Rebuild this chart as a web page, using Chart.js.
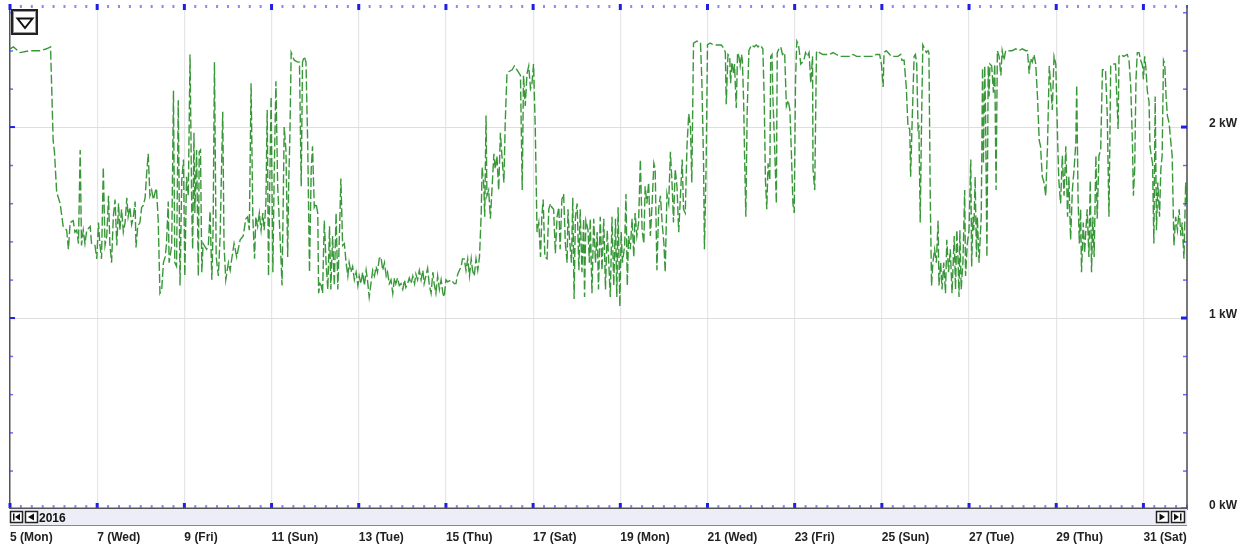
<!DOCTYPE html>
<html>
<head>
<meta charset="utf-8">
<title>Power December 2016</title>
<script src="https://cdn.jsdelivr.net/npm/chart.js@4.4.0/dist/chart.umd.min.js"></script>
<style>
  html, body { margin: 0; padding: 0; background: #fff; }
  #wrap { position: relative; width: 1245px; height: 546px; }
</style>
</head>
<body>
<div id="wrap"><canvas id="chart"></canvas></div>
<script>
// readings: x = day of month (December 2016), y = power in kW
const days1 = [
  5.00,5.08,5.23,5.46,5.69,5.84,5.93,5.99,6.02,6.07,
  6.15,6.22,6.30,6.34,6.38,6.45,6.49,6.53,6.57,6.61,
  6.64,6.68,6.72,6.76,6.84,6.87,6.95,6.99,7.03,7.06,
  7.10,7.14,7.18,7.22,7.26,7.29,7.33,7.37,7.41,7.45,
  7.49,7.52,7.56,7.60,7.64,7.68,7.71,7.75,7.79,7.83,
  7.87,7.89,7.93,7.98,8.02,8.06,8.10,8.13,8.17,8.21,
  8.25,8.29,8.33,8.36,8.40,8.44,8.48,8.52,8.56,8.59,
  8.63,8.65,8.71,8.75,8.78,8.82,8.86,8.90,8.94,8.98,
  9.01,9.05,9.09,9.13,9.17,9.19,9.22,9.24,9.28,9.32,
  9.34,9.37,9.40,9.43,9.51,9.55,9.59,9.63,9.66,9.69,
  9.73,9.78,9.82,9.88,9.91,9.95,10.01,10.05,10.08,10.14,
  10.20,10.28,10.35
];
const kw1 = [
  2.41,2.42,2.39,2.40,2.40,2.41,2.42,1.93,1.87,1.66,
  1.60,1.48,1.46,1.36,1.50,1.51,1.45,1.46,1.39,1.88,
  1.38,1.46,1.39,1.46,1.48,1.39,1.38,1.31,1.50,1.39,
  1.31,1.79,1.38,1.43,1.64,1.39,1.29,1.53,1.62,1.38,
  1.60,1.46,1.57,1.45,1.50,1.63,1.53,1.58,1.49,1.53,
  1.61,1.37,1.48,1.50,1.58,1.59,1.63,1.74,1.86,1.64,
  1.67,1.62,1.66,1.68,1.51,1.13,1.15,1.29,1.32,1.39,
  1.61,1.29,1.38,2.19,1.29,1.27,2.14,1.17,1.72,1.83,
  1.22,1.74,1.64,2.38,1.56,1.36,1.97,1.55,1.88,1.22,
  1.87,1.88,1.24,1.39,1.36,1.38,1.56,1.20,1.48,2.34,
  1.32,1.22,1.43,2.08,1.38,1.20,1.29,1.25,1.30,1.39,
  1.32,1.41,1.43
];

const days2 = [
  10.41,10.45,10.49,10.53,10.57,10.61,10.64,10.68,10.72,10.76,
  10.80,10.83,10.87,10.90,10.93,10.96,10.99,11.03,11.06,11.10,
  11.14,11.18,11.22,11.24,11.27,11.29,11.33,11.37,11.39,11.42,
  11.45,11.52,11.60,11.64,11.68,11.71,11.75,11.79,11.83,11.87,
  11.91,11.94,11.98,12.02,12.06,12.08,12.11,12.14,12.17,12.21,
  12.25,12.29,12.33,12.36,12.40,12.44,12.48,12.52,12.56,12.59,
  12.63,12.67,12.71,12.75,12.78,12.82,12.86,12.90,12.94,12.98,
  13.01,13.05,13.09,13.13,13.17,13.20,13.24,13.28,13.32,13.36,
  13.40,13.43,13.47,13.51,13.55,13.59,13.63,13.66,13.70,13.74,
  13.78,13.82,13.85,13.89,13.93,13.97,14.01,14.05,14.08,14.12,
  14.16,14.20,14.24,14.28,14.31,14.35,14.39,14.43,14.47,14.50,
  14.54,14.58,14.62,14.66,14.70,14.73,14.77,14.81,14.85,14.89,
  14.93,14.96,15.00,15.04,15.12,15.19,15.23,15.27,15.31,15.35,
  15.38,15.42,15.46,15.50,15.54,15.58,15.61,15.65,15.69,15.73,
  15.77,15.81
];
const kw2 = [
  1.52,1.53,1.46,2.23,1.53,1.31,1.53,1.48,1.55,1.46,
  1.55,1.46,1.60,2.09,1.22,1.72,2.16,1.24,1.74,2.24,
  1.69,1.50,1.29,1.17,1.64,2.00,1.88,1.32,1.67,1.95,
  2.39,2.35,2.34,2.34,1.69,2.34,2.37,2.34,1.90,1.24,
  1.78,1.90,1.58,1.60,1.55,1.13,1.18,1.17,1.13,1.51,
  1.29,1.15,1.48,1.15,1.43,1.17,1.55,1.15,1.46,1.73,
  1.38,1.39,1.29,1.22,1.29,1.24,1.27,1.20,1.24,1.17,
  1.22,1.18,1.24,1.17,1.25,1.20,1.11,1.18,1.25,1.22,
  1.27,1.24,1.31,1.32,1.25,1.29,1.22,1.24,1.18,1.20,
  1.13,1.21,1.18,1.21,1.17,1.18,1.15,1.20,1.16,1.18,
  1.21,1.18,1.22,1.18,1.23,1.20,1.25,1.20,1.25,1.18,
  1.22,1.26,1.17,1.13,1.24,1.18,1.13,1.22,1.15,1.20,
  1.13,1.11,1.20,1.19,1.20,1.18,1.18,1.23,1.25,1.27,
  1.31,1.31,1.25,1.31,1.22,1.31,1.25,1.22,1.31,1.25,
  1.32,1.55
];

const days3 = [
  15.83,15.87,15.89,15.92,15.94,15.98,16.02,16.06,16.10,16.13,
  16.17,16.21,16.25,16.29,16.33,16.36,16.40,16.44,16.52,16.57,
  16.63,16.71,16.75,16.78,16.82,16.86,16.90,16.94,16.97,17.01,
  17.05,17.09,17.13,17.17,17.20,17.23,17.27,17.32,17.36,17.40,
  17.43,17.47,17.51,17.55,17.59,17.62,17.66,17.70,17.74,17.78,
  17.80,17.83,17.88,17.91,17.94,17.97,18.01,18.05,18.08,18.12,
  18.16,18.18,18.21,18.26,18.29,18.31,18.35,18.39,18.43,18.47,
  18.50,18.54,18.58,18.62,18.66,18.70,18.73,18.77,18.81,18.85,
  18.89,18.92,18.95,18.99,19.02,19.05,19.10,19.13,19.16,19.19,
  19.23,19.27,19.31,19.34,19.38,19.42,19.46,19.50,19.54,19.57,
  19.61,19.65,19.69,19.73,19.77,19.80,19.84,19.88,19.92,19.96,
  20.00,20.03,20.07,20.11,20.15,20.19,20.22,20.26,20.30,20.34,
  20.38,20.42,20.45,20.49,20.53,20.57,20.61,20.64,20.68,20.76,
  20.84,20.87,20.91,20.93,20.97,21.00,21.06,21.14,21.18
];
const kw3 = [
  1.79,1.69,1.53,2.06,1.64,1.67,1.52,1.69,1.86,1.78,
  1.85,1.67,1.97,1.83,1.71,2.02,2.28,2.29,2.30,2.32,
  2.30,2.27,1.67,2.27,2.11,2.28,2.32,2.20,2.22,2.33,
  1.99,1.45,1.50,1.32,1.53,1.62,1.32,1.31,1.57,1.60,
  1.58,1.57,1.34,1.53,1.58,1.36,1.62,1.65,1.39,1.29,
  1.57,1.43,1.29,1.63,1.10,1.53,1.60,1.25,1.57,1.24,
  1.52,1.11,1.51,1.46,1.29,1.52,1.13,1.52,1.29,1.45,
  1.15,1.53,1.25,1.52,1.15,1.46,1.32,1.11,1.53,1.17,
  1.52,1.11,1.58,1.06,1.45,1.29,1.38,1.65,1.17,1.43,
  1.36,1.52,1.32,1.55,1.43,1.50,1.83,1.46,1.39,1.69,
  1.60,1.71,1.43,1.60,1.81,1.78,1.25,1.57,1.64,1.50,
  1.39,1.24,1.65,1.60,1.87,1.69,1.50,1.78,1.69,1.45,
  1.64,1.83,1.57,1.55,1.90,2.07,2.00,1.71,2.44,2.45,
  2.44,2.25,1.81,1.36,1.81,2.43,2.44,2.43,2.43
];

const days4 = [
  21.24,21.32,21.38,21.41,21.43,21.47,21.51,21.53,21.56,21.60,
  21.62,21.66,21.69,21.72,21.75,21.78,21.80,21.83,21.85,21.88,
  21.91,21.95,22.01,22.07,22.12,22.16,22.20,22.24,22.27,22.30,
  22.33,22.36,22.39,22.43,22.45,22.48,22.50,22.54,22.58,22.60,
  22.64,22.68,22.72,22.77,22.81,22.85,22.89,22.92,22.96,22.99,
  23.02,23.05,23.09,23.14,23.18,23.21,23.25,23.29,23.33,23.37,
  23.41,23.42,23.46,23.50,23.54,23.57,23.65,23.73,23.80,23.88,
  23.96,24.03,24.11,24.19,24.26,24.34,24.42,24.49,24.57,24.64,
  24.72,24.80,24.87,24.95,24.99,25.03,25.05,25.10,25.14,25.22,
  25.29,25.37,25.43,25.46,25.51,25.56,25.60,25.64,25.66,25.69,
  25.74,25.77,25.80,25.83,25.85,25.88,25.91,25.94,25.98,26.02,
  26.06,26.08,26.11,26.14,26.17,26.21,26.25,26.29,26.31,26.35,
  26.38,26.42,26.46,26.49,26.53,26.57,26.61
];
const kw4 = [
  2.43,2.43,2.41,2.39,2.12,2.38,2.37,2.23,2.34,2.28,
  2.33,2.10,2.39,2.37,2.32,2.38,2.35,2.13,1.86,1.53,
  2.07,2.40,2.43,2.42,2.43,2.42,2.43,2.42,2.41,2.16,
  1.72,1.57,1.81,1.72,2.37,2.38,2.16,1.90,1.60,2.39,
  2.41,2.42,2.38,2.39,2.11,2.14,2.09,1.90,1.60,1.55,
  2.25,2.45,2.43,2.33,2.34,2.35,2.39,2.37,2.39,2.23,
  2.37,1.78,1.67,2.39,2.40,2.39,2.38,2.38,2.38,2.39,
  2.38,2.37,2.37,2.37,2.37,2.38,2.37,2.37,2.37,2.37,
  2.37,2.37,2.38,2.38,2.33,2.21,2.39,2.40,2.39,2.37,
  2.37,2.37,2.38,2.35,2.35,2.21,2.00,1.99,1.74,1.99,
  2.37,2.38,2.33,1.99,2.00,1.50,2.02,2.43,2.41,2.39,
  2.40,2.39,1.64,1.17,1.29,1.36,1.29,1.51,1.17,1.29,
  1.15,1.29,1.13,1.41,1.24,1.36,1.13
];

const days5 = [
  26.66,26.69,26.72,26.75,26.77,26.79,26.82,26.86,26.90,26.92,
  26.96,27.00,27.04,27.06,27.09,27.11,27.14,27.17,27.19,27.23,
  27.25,27.28,27.31,27.33,27.36,27.38,27.41,27.44,27.46,27.48,
  27.52,27.56,27.59,27.62,27.65,27.69,27.73,27.76,27.80,27.84,
  27.92,27.99,28.07,28.15,28.22,28.30,28.34,28.38,28.41,28.45,
  28.49,28.53,28.57,28.61,28.64,28.68,28.72,28.76,28.80,28.84,
  28.87,28.91,28.95,28.99,29.03,29.06,29.10,29.14,29.18,29.22,
  29.26,29.29,29.33,29.37,29.41,29.45,29.47,29.50,29.53,29.56,
  29.58,29.62,29.65,29.68,29.71,29.75,29.78,29.81,29.84,29.87,
  29.91,29.94,29.98,30.02,30.06,30.13,30.17,30.21,30.25,30.29,
  30.33,30.36,30.39,30.42,30.44,30.48,30.55,30.63,30.67,30.71,
  30.75,30.77,30.80,30.83,30.86,30.90,30.94,30.98,31.00,31.03,
  31.06,31.09,31.13,31.15,31.18,31.21,31.24,31.27,31.30,31.33,
  31.37,31.40,31.43,31.46,31.49,31.52,31.55,31.59,31.63,31.66,
  31.70,31.74,31.78,31.82,31.86,31.89,31.93,31.97,32.00
];
const kw5 = [
  1.43,1.15,1.46,1.29,1.11,1.46,1.15,1.29,1.67,1.22,
  1.39,1.46,1.83,1.27,1.53,1.46,1.74,1.32,1.53,1.29,
  1.39,1.53,2.31,1.81,2.32,2.06,1.32,2.32,2.16,2.33,
  2.32,2.18,2.33,1.67,2.40,2.37,2.27,2.40,2.35,2.40,
  2.40,2.40,2.41,2.40,2.41,2.40,2.40,2.28,2.36,2.34,
  2.38,2.33,2.16,1.93,1.90,1.74,1.71,1.64,1.90,2.32,
  2.23,2.09,2.37,2.33,1.95,1.72,1.60,1.85,1.64,1.90,
  1.53,1.74,1.41,1.67,1.78,1.92,2.22,1.64,1.39,1.57,
  1.24,1.50,1.34,1.46,1.57,1.32,1.72,1.24,1.53,1.32,
  1.85,1.52,1.85,1.88,2.30,2.30,2.07,1.53,2.32,2.33,
  2.33,2.33,2.16,1.99,2.37,2.38,2.37,2.38,2.35,2.21,
  1.90,1.64,1.78,2.25,2.39,2.39,2.35,2.32,2.25,2.37,
  2.30,2.19,2.13,1.90,1.85,1.81,1.39,2.16,1.46,1.71,
  1.53,1.78,1.85,2.35,2.33,2.16,2.06,2.02,1.92,1.85,
  1.38,1.53,1.46,1.57,1.43,1.50,1.31,1.71,1.60
];

const tickDays = [5, 7, 9, 11, 13, 15, 17, 19, 21, 23, 25, 27, 29, 31];
const tickLabels = ['5 (Mon)', '7 (Wed)', '9 (Fri)', '11 (Sun)', '13 (Tue)', '15 (Thu)', '17 (Sat)',
  '19 (Mon)', '21 (Wed)', '23 (Fri)', '25 (Sun)', '27 (Tue)', '29 (Thu)', '31 (Sat)'];
const kwTicks = [0, 1, 2];
const kwLabels = ['0 kW', '1 kW', '2 kW'];
const yearLabel = '2016';

const allDays = days1.concat(days2, days3, days4, days5);
const allKw = kw1.concat(kw2, kw3, kw4, kw5);
if (allDays.length !== allKw.length) console.error('length mismatch', allDays.length, allKw.length);
const points = allDays.map((d, i) => ({ x: d, y: allKw[i] }));

Chart.defaults.font.family = '"Liberation Sans", Arial, sans-serif';
Chart.defaults.font.size = 12;
Chart.defaults.font.weight = 'bold';
Chart.defaults.color = '#222';

function tri(ctx, pts) {
  ctx.beginPath();
  ctx.moveTo(pts[0], pts[1]);
  ctx.lineTo(pts[2], pts[3]);
  ctx.lineTo(pts[4], pts[5]);
  ctx.closePath();
  ctx.fill();
}

function navButton(ctx, x0, y0, w, h) {
  ctx.fillStyle = '#fff';
  ctx.fillRect(x0, y0, w, h);
  ctx.strokeStyle = '#222';
  ctx.lineWidth = 1.5;
  ctx.strokeRect(x0 + 0.5, y0 + 0.5, w - 1, h - 1);
  ctx.fillStyle = '#111';
}

// no extra label padding, so the plot area keeps its fixed place
function noPadding(s) {
  s.paddingLeft = 0;
  s.paddingRight = 0;
  s.paddingTop = 0;
  s.paddingBottom = 0;
}

// frame, blue tick marks, scroll bar and buttons
const decor = {
  id: 'decor',
  afterDraw(chart) {
    const { ctx, chartArea: a, scales: { x, y } } = chart;
    ctx.save();

    // left frame line
    ctx.fillStyle = '#555';
    ctx.fillRect(a.left - 1, a.top, 1.5, a.bottom - a.top);

    // minor (6 h) and major ticks along top and bottom
    for (let d = 5; d <= 32; d += 0.25) {
      const px = x.getPixelForValue(d);
      if (tickDays.includes(d)) {
        ctx.fillStyle = '#1f1fe6';
        ctx.fillRect(px - 1.5, a.top - 2, 3, 6);
        ctx.fillRect(px - 1.5, a.bottom - 6, 3, 5);
      } else {
        ctx.fillStyle = 'rgba(60,60,235,0.6)';
        ctx.fillRect(px - 1, a.top - 1, 2, 3);
        ctx.fillRect(px - 1, a.bottom - 4, 2, 3);
      }
    }

    // ticks every 0.2 kW along left and right
    for (let i = 0; i <= 13; i++) {
      const py = y.getPixelForValue(i / 5);
      const major = i % 5 === 0;
      ctx.fillStyle = major ? '#1f1fe6' : 'rgba(60,60,235,0.75)';
      if (major) {
        ctx.fillRect(a.left, py - 1, 5, 2);
        ctx.fillRect(a.right - 6, py - 1.5, 6, 3);
      } else {
        ctx.fillRect(a.left, py - 0.5, 3, 1.5);
        ctx.fillRect(a.right - 4, py - 0.5, 4, 1.5);
      }
    }

    // scroll bar band
    const bandTop = a.bottom;
    ctx.fillStyle = '#ededf7';
    ctx.fillRect(a.left, bandTop, a.right - a.left, 16);
    ctx.fillStyle = '#555';
    ctx.fillRect(a.left - 1, bandTop - 1.5, a.right - a.left + 1, 1.5);
    ctx.fillStyle = '#888';
    ctx.fillRect(a.left, bandTop + 16, a.right - a.left, 1);

    const by = bandTop + 2;
    // |<  button
    navButton(ctx, a.left, by, 13, 12);
    ctx.fillRect(a.left + 3, by + 2.5, 1.5, 7);
    tri(ctx, [a.left + 5, by + 6, a.left + 10, by + 2.5, a.left + 10, by + 9.5]);
    // <  button
    navButton(ctx, a.left + 15, by, 13, 12);
    tri(ctx, [a.left + 18, by + 6, a.left + 24, by + 2.5, a.left + 24, by + 9.5]);
    ctx.fillStyle = '#111';
    ctx.font = 'bold 12px "Liberation Sans", Arial, sans-serif';
    ctx.textBaseline = 'alphabetic';
    ctx.textAlign = 'left';
    ctx.fillText(yearLabel, a.left + 29, by + 10.5);
    // >  button
    const rx = a.right - 31;
    navButton(ctx, rx, by, 13, 12);
    tri(ctx, [rx + 9, by + 6, rx + 3.5, by + 2.5, rx + 3.5, by + 9.5]);
    // >|  button
    navButton(ctx, rx + 15, by, 14, 12);
    tri(ctx, [rx + 23, by + 6, rx + 18, by + 2.5, rx + 18, by + 9.5]);
    ctx.fillRect(rx + 24, by + 2.5, 1.5, 7);

    // filter button top left
    ctx.fillStyle = '#fff';
    ctx.fillRect(a.left + 2, a.top + 4, 25, 24);
    ctx.strokeStyle = '#222';
    ctx.lineWidth = 2;
    ctx.strokeRect(a.left + 2, a.top + 4, 25, 24);
    ctx.strokeStyle = '#999';
    ctx.lineWidth = 1;
    ctx.strokeRect(a.left + 3.5, a.top + 5.5, 22, 21);
    ctx.strokeStyle = '#111';
    ctx.lineWidth = 2;
    ctx.beginPath();
    ctx.moveTo(a.left + 7.5, a.top + 12.5);
    ctx.lineTo(a.left + 22.5, a.top + 12.5);
    ctx.lineTo(a.left + 15, a.top + 22);
    ctx.closePath();
    ctx.stroke();

    ctx.restore();
  }
};

new Chart(document.getElementById('chart'), {
  type: 'line',
  data: {
    datasets: [{
      label: 'Power',
      data: points,
      borderColor: 'rgba(34,140,34,0.9)',
      borderWidth: 1.4,
      borderDash: [9, 3],
      pointRadius: 0,
      tension: 0,
      fill: false
    }]
  },
  options: {
    responsive: true,
    maintainAspectRatio: false,
    animation: false,
    layout: { padding: { left: 10, top: 6, right: 0, bottom: 0 } },
    plugins: { legend: { display: false }, tooltip: { enabled: false } },
    scales: {
      x: {
        type: 'linear',
        min: 5,
        max: 32,
        afterBuildTicks: s => { s.ticks = tickDays.map(v => ({ value: v })); },
        afterFit: s => { s.height = 37; noPadding(s); },
        ticks: {
          autoSkip: false,
          maxRotation: 0,
          align: 'start',
          padding: 21,
          color: '#222',
          callback: v => tickLabels[tickDays.indexOf(v)]
        },
        grid: { color: '#e6e6e6', lineWidth: 1.2, drawTicks: false },
        border: { display: false }
      },
      y: {
        type: 'linear',
        position: 'right',
        min: 0,
        max: 2.634,
        afterBuildTicks: s => { s.ticks = kwTicks.map(v => ({ value: v })); },
        afterFit: s => { s.width = 58; noPadding(s); },
        ticks: {
          padding: 22,
          labelOffset: -3,
          color: '#222',
          callback: v => kwLabels[kwTicks.indexOf(v)]
        },
        grid: { color: '#dedede', lineWidth: 1, drawTicks: false },
        border: { display: true, color: '#777', width: 2 }
      }
    }
  },
  plugins: [decor]
});
</script>
</body>
</html>
